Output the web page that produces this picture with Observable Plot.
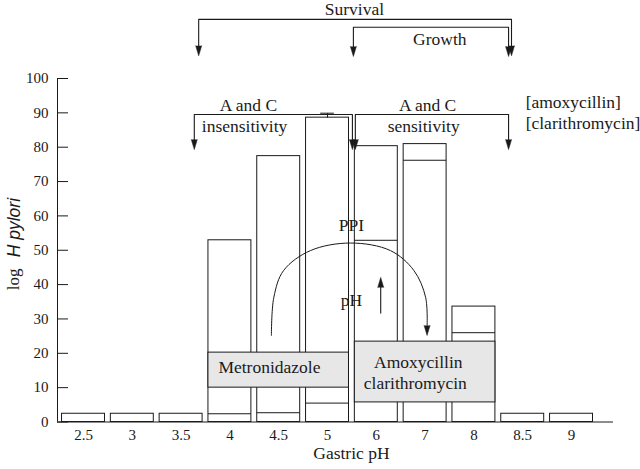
<!DOCTYPE html>
<html>
<head>
<meta charset="utf-8">
<script src="https://cdn.jsdelivr.net/npm/d3@7"></script>
<script src="https://cdn.jsdelivr.net/npm/@observablehq/plot@0.6"></script>
<style>
  html, body { margin: 0; padding: 0; background: #fff; }
  #chart svg { display: block; }
  #chart svg text { font-family: "Liberation Serif"; }
  #chart svg .italic-sans text { font-family: "Liberation Sans"; font-style: italic; }
</style>
</head>
<body>
<div id="chart"></div>
<script>
// ---- data ----
const categories = ["2.5", "3", "3.5", "4", "4.5", "5", "6", "7", "8", "8.5", "9"];
const barTotal = [2.4, 2.4, 2.4, 52.9, 77.4, 88.6, 80.3, 80.9, 33.6, 2.4, 2.4];
const barInner = [null, null, null, 2.4, 2.7, 5.5, 52.9, 76.2, 26.0, null, null];
const errorCategory = "5";
const errorHigh = 89.9;
const yTicks = [0, 10, 20, 30, 40, 50, 60, 70, 80, 90, 100];

// brackets (x in category-index units, y in log H pylori units)
const bracketNames = ["Survival", "Growth", "A and C insensitivity", "A and C sensitivity"];
const bracketLeft = [2.36, 5.53, 2.27, 5.57];
const bracketRight = [8.77, 8.71, 5.51, 8.71];
const bracketTop = [117.2, 114.9, 89.5, 89.5];
const bracketTip = [106.6, 106.4, 79.3, 79.3];

// text annotations
const labelText = ["Survival", "Growth", "A and C", "insensitivity", "A and C", "sensitivity", "PPI", "pH", "Metronidazole", "Amoxycillin", "clarithromycin"];
const labelX = [5.55, 7.30, 3.38, 3.30, 7.05, 6.97, 5.49, 5.49, 3.81, 6.86, 6.80];
const labelY = [120.1, 111.4, 92.1, 86.2, 92.1, 86.2, 57.2, 35.4, 15.9, 17.3, 11.2];
const noteText = ["[amoxycillin]", "[clarithromycin]"];
const noteX = [9.06, 9.06];
const noteY = [93.0, 86.9];

// drug boxes
const boxNames = ["Metronidazole", "Amoxycillin clarithromycin"];
const boxX1 = [2.56, 5.56];
const boxX2 = [5.44, 8.44];
const boxY1 = [10.0, 5.7];
const boxY2 = [20.2, 23.4];

// PPI arc and pH arrow
const arcX = [3.85, 3.90, 4.10, 4.65, 5.47, 6.29, 6.77, 7.01, 7.04];
const arcY = [25.2, 36.3, 44.1, 49.9, 52.1, 49.9, 44.1, 36.3, 27.6];
const arcTip = {x: 7.04, y: 25.2};
const phArrow = {x: 6.09, y1: 31.6, y2: 42.1};

// ---- derived tables ----
const halfW = 0.44;
const bars = categories.map((c, i) => ({c, i, total: barTotal[i], inner: barInner[i]}));
const inner = bars.filter(d => d.inner != null);
const eb = bars.find(d => d.c === errorCategory);
const bracketPts = bracketNames.flatMap((n, k) => [
  {n, x: bracketLeft[k], y: bracketTip[k] + 2.4},
  {n, x: bracketLeft[k], y: bracketTop[k]},
  {n, x: bracketRight[k], y: bracketTop[k]},
  {n, x: bracketRight[k], y: bracketTip[k] + 2.4}
]);
const heads = bracketNames.flatMap((n, k) => [
  {x: bracketLeft[k], y: bracketTip[k], r: 180},
  {x: bracketRight[k], y: bracketTip[k], r: 180}
]);
heads.push({x: arcTip.x, y: arcTip.y, r: 180});
heads.push({x: phArrow.x, y: phArrow.y2, r: 0});
const labels = labelText.map((t, k) => ({t, x: labelX[k], y: labelY[k]}));
const notes = noteText.map((t, k) => ({t, x: noteX[k], y: noteY[k]}));
const boxes = boxNames.map((n, k) => ({n, x1: boxX1[k], x2: boxX2[k], y1: boxY1[k], y2: boxY2[k]}));
const arc = arcX.map((x, k) => ({x, y: arcY[k]}));

const INK = "#1a1a1a";
const SERIF = "Liberation Serif";
const frameW = 640 - 57 - 27;

const chart = Plot.plot({
  width: 640,
  height: 469,
  marginLeft: 57,
  marginRight: 27,
  marginTop: 78,
  marginBottom: 47.5,
  style: {fontFamily: SERIF, fontSize: "15px", color: INK, background: "#fff"},
  x: {domain: [-0.533, 10.86], axis: null},
  y: {domain: [0, 100], axis: null},
  marks: [
    // bars
    Plot.rect(bars, {x1: d => d.i - halfW, x2: d => d.i + halfW, y1: 0, y2: "total", fill: "#fff", stroke: INK, strokeWidth: 1}),
    Plot.ruleY(inner, {x1: d => d.i - halfW, x2: d => d.i + halfW, y: "inner", stroke: INK, strokeWidth: 1}),
    // error bar on pH 5
    Plot.link([eb], {x1: "i", x2: "i", y1: "total", y2: () => errorHigh, stroke: INK}),
    Plot.ruleY([eb], {x1: d => d.i - 0.14, x2: d => d.i + 0.14, y: () => errorHigh, stroke: INK}),
    // axes
    Plot.ruleY([0], {stroke: INK}),
    Plot.ruleX([-0.533], {y1: 0, y2: 100, stroke: INK}),
    Plot.ruleY(yTicks, {insetRight: frameW - 11, stroke: INK}),
    Plot.axisY({ticks: yTicks, tickSize: 0, tickPadding: 9, fontSize: 15, fontFamily: SERIF, label: null}),
    Plot.axisX({ticks: d3.range(categories.length), tickFormat: i => categories[i], tickSize: 0, tickPadding: 7, fontSize: 15, fontFamily: SERIF, label: null}),
    Plot.text(["Gastric pH"], {x: 5.49, frameAnchor: "bottom", dy: 37, fontSize: 17.5, fontFamily: SERIF, fill: INK}),
    Plot.text(["log"], {frameAnchor: "left", dx: -43.5, dy: 40, rotate: -90, textAnchor: "start", fontSize: 17, fontFamily: SERIF, fill: INK}),
    Plot.text(["H pylori"], {frameAnchor: "left", dx: -43.5, dy: 7, rotate: -90, textAnchor: "start", fontSize: 17.5, fontStyle: "italic", fontFamily: "Liberation Sans", fill: INK, className: "italic-sans"}),
    // drug boxes
    Plot.rect(boxes, {x1: "x1", x2: "x2", y1: "y1", y2: "y2", fill: "#e7e7e7", stroke: INK, strokeWidth: 1}),
    // brackets
    Plot.line(bracketPts, {x: "x", y: "y", z: "n", stroke: INK, strokeWidth: 1.1}),
    // PPI arc and pH arrow
    Plot.line(arc, {x: "x", y: "y", curve: "catmull-rom", stroke: INK, strokeWidth: 1}),
    Plot.link([phArrow], {x1: "x", x2: "x", y1: "y1", y2: d => d.y2 - 2.4, stroke: INK, strokeWidth: 1.1}),
    // arrowheads
    Plot.vector(heads, {x: "x", y: "y", rotate: "r", length: 10, r: 3, shape: "spike", anchor: "end", fill: INK, fillOpacity: 1, stroke: INK, strokeWidth: 0.5}),
    // labels
    Plot.text(labels, {x: "x", y: "y", text: "t", fontSize: 17.5, fontFamily: SERIF, fill: INK}),
    Plot.text(notes, {x: "x", y: "y", text: "t", textAnchor: "start", fontSize: 17.5, fontFamily: SERIF, fill: INK})
  ]
});
document.getElementById("chart").appendChild(chart);
</script>
</body>
</html>
